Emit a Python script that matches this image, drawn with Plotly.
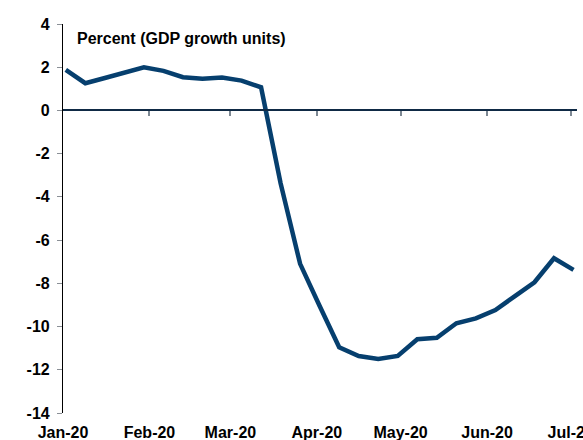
import pandas as pd
import plotly.graph_objects as go

# Weekly readings, starting Thursday 2 January 2020
start_date = "2020-01-02"
growth_pct = [1.88, 1.26, 1.50, 1.73, 2.00, 1.83, 1.54, 1.47, 1.52, 1.38, 1.07,
              -3.37, -7.10, -9.05, -10.96, -11.36, -11.50, -11.36, -10.59, -10.52,
              -9.85, -9.62, -9.24, -8.59, -7.95, -6.84, -7.38]
month_starts = ["2020-01-01", "2020-02-01", "2020-03-01", "2020-04-01",
                "2020-05-01", "2020-06-01", "2020-07-01"]
month_labels = ["Jan-20", "Feb-20", "Mar-20", "Apr-20", "May-20", "Jun-20", "Jul-20"]
y_ticks = [4, 2, 0, -2, -4, -6, -8, -10, -12, -14]
y_labels = ["4", "2", "0", "-2", "-4", "-6", "-8", "-10", "-12", "-14"]

dates = pd.date_range(start_date, periods=len(growth_pct), freq="7D")

FONT = "Liberation Sans, Arial, sans-serif"
LINE = "#063f6e"
Y_MIN, Y_MAX = -14, 4
x_range = ["2020-01-01", "2020-07-03 06:00"]

fig = go.Figure()
fig.add_trace(go.Scatter(
    x=dates, y=growth_pct, mode="lines",
    line=dict(color=LINE, width=4.5),
    hoverinfo="skip", showlegend=False,
))

fig.update_layout(
    width=583, height=440,
    margin=dict(l=63, r=6, t=24, b=27),
    plot_bgcolor="white", paper_bgcolor="white",
    font=dict(family=FONT, color="black"),
    xaxis=dict(
        range=x_range, showgrid=False, zeroline=False, showline=False,
        ticks="", tickvals=month_starts, ticktext=month_labels,
        tickfont=dict(size=16, weight="bold", family=FONT),
        ticklabelstandoff=8, automargin=False, ticklabeloverflow="allow",
    ),
    # Month tick marks sitting on the zero line
    xaxis2=dict(
        matches="x", overlaying="x", anchor="free",
        position=(0 - Y_MIN) / (Y_MAX - Y_MIN),
        showgrid=False, zeroline=False, showline=True,
        linecolor="#0f2a45", linewidth=1.5,
        ticks="outside", ticklen=5, tickwidth=1.5, tickcolor="#7d8893",
        tickvals=month_starts[1:], showticklabels=False,
    ),
    yaxis=dict(
        range=[Y_MIN, Y_MAX], tickvals=y_ticks, ticktext=y_labels,
        showgrid=False, zeroline=False,
        showline=True, linecolor="black", linewidth=1.2,
        ticks="outside", ticklen=5, tickwidth=1.2, tickcolor="#8a8f96",
        tickfont=dict(size=16, weight="bold", family=FONT),
        ticklabelstandoff=4, automargin=False,
    ),
    annotations=[dict(
        text="Percent (GDP growth units)", xref="paper", yref="paper",
        x=0.0235, y=0.963, xanchor="left", yanchor="middle", showarrow=False,
        font=dict(size=16, weight="bold", family=FONT, color="black"),
    )],
)

# Invisible anchor trace so the overlay axis is drawn
fig.add_trace(go.Scatter(x=[dates[0]], y=[0], xaxis="x2", mode="lines",
                         line=dict(width=0), hoverinfo="skip", showlegend=False))

fig.write_html("out.html")
